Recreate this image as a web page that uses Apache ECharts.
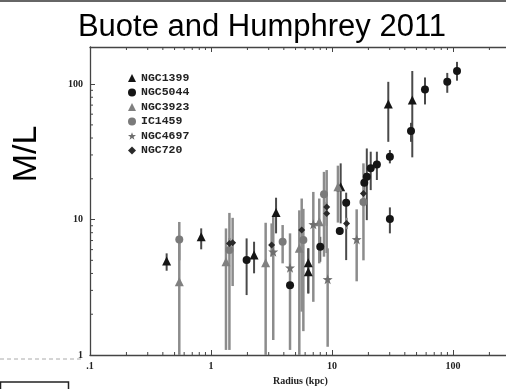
<!DOCTYPE html>
<html>
<head>
<meta charset="utf-8">
<script src="https://cdn.jsdelivr.net/npm/echarts@6/dist/echarts.min.js"></script>
<style>
  html, body { margin: 0; padding: 0; background: #fff; }
  #chart { width: 506px; height: 389px; }
</style>
</head>
<body>
<div id="chart"></div>
<script>
// Mass-to-light ratio profiles: [radius (kpc), M/L, lower bound, upper bound]
const galaxies = ['NGC1399', 'NGC5044', 'NGC3923', 'IC1459', 'NGC4697', 'NGC720'];

const ngc1399 = [
  [0.43, 4.94, 4.19, 5.63],
  [0.83, 7.46, 6.03, 8.61],
  [2.27, 5.47, 4.01, 6.86],
  [3.45, 11.3, 7.91, 14.5],
  [6.37, 4.80, 2.85, 6.13],
  [6.37, 4.12, 2.85, 6.13],
  [11.8, 17.5, 9.37, 26.0],
  [29.2, 71.2, 37.5, 104],
  [46.1, 76.2, 28.8, 125]
];
const ngc5044 = [
  [1.97, 5.02, 2.77, 7.26],
  [4.50, 3.28, 3.0, 3.6],
  [8.0, 6.30, 4.88, 7.46],
  [11.6, 8.23, 7.7, 8.8],
  [13.1, 13.3, 5.02, 15.8],
  [18.5, 18.7, 16.0, 22.0],
  [19.4, 20.7, 9.9, 33.5],
  [20.9, 23.9, 16.5, 31.7],
  [23.5, 25.5, 19.6, 31.7],
  [30.1, 29.1, 26.0, 32.6],
  [30.1, 10.1, 7.91, 12.3],
  [45.0, 45.0, 37.5, 51.8],
  [58.7, 91.4, 70.8, 112],
  [89.7, 104, 86.3, 121],
  [108, 125, 106, 146]
];
const ngc3923 = [
  [0.547, 3.48, 1.0, 7.0],
  [1.33, 4.88, 1.09, 8.6],
  [2.83, 4.80, 1.0, 9.47],
  [5.37, 6.13, 1.0, 11.7],
  [7.85, 9.63, 4.75, 14.3],
  [11.2, 17.5, 9.5, 25.0]
];
const ic1459 = [
  [0.547, 7.14, 5.0, 9.6],
  [1.42, 5.95, 1.09, 11.2],
  [3.91, 6.86, 4.75, 9.11],
  [5.8, 7.06, 1.5, 12.0],
  [8.59, 15.4, 5.32, 22.5],
  [18.2, 13.5, 12.5, 14.5]
];
const ngc4697 = [
  [3.27, 5.79, 1.29, 10.5],
  [4.50, 4.41, 1.09, 7.91],
  [7.01, 9.22, 2.47, 16.0],
  [9.21, 3.62, 1.15, 6.13],
  [16.0, 7.14, 3.5, 11.9]
];
const ngc720 = [
  [1.42, 6.67, 6.0, 7.3],
  [1.51, 6.74, 3.23, 10.3],
  [3.17, 6.48, 5.32, 9.37],
  [5.62, 8.37, 2.09, 14.3],
  [9.04, 12.4, 5.66, 23.2],
  [9.04, 11.1, 9.0, 13.5],
  [13.2, 9.37, 8.5, 10.3],
  [18.2, 15.6, 5.0, 26.0]
];

// Axis ranges and labelled decades
const xRange = [0.1, 300];
const yRange = [1, 188];
const xDecades = [0.1, 1, 10, 100];
const yDecades = [1, 10, 100];
const minorSteps = [2, 3, 4, 5, 6, 7, 8, 9];

const starPath = 'path://M0,-10L2.35,-3.24L9.51,-3.09L3.8,1.24L5.88,8.09L0,4L-5.88,8.09L-3.8,1.24L-9.51,-3.09L-2.35,-3.24Z';

const styles = {
  NGC1399: { data: ngc1399, symbol: 'triangle', size: 9, color: '#151515', err: '#4a4a4a', w: 2 },
  NGC5044: { data: ngc5044, symbol: 'circle', size: 8, color: '#151515', err: '#4a4a4a', w: 2 },
  NGC3923: { data: ngc3923, symbol: 'triangle', size: 9, color: '#808080', err: '#8c8c8c', w: 2.5 },
  IC1459:  { data: ic1459, symbol: 'circle', size: 8, color: '#7a7a7a', err: '#8c8c8c', w: 2.5 },
  NGC4697: { data: ngc4697, symbol: starPath, size: 10, color: '#6e6e6e', err: '#8c8c8c', w: 2.5 },
  NGC720:  { data: ngc720, symbol: 'diamond', size: 7, color: '#2a2a2a', err: '#8c8c8c', w: 2.5 }
};

function isDecade(v) {
  const l = Math.log10(v);
  return Math.abs(l - Math.round(l)) < 1e-6;
}

function errorBars(color, width) {
  return function (params, api) {
    const x = api.value(0);
    const p1 = api.coord([x, api.value(2)]);
    const p2 = api.coord([x, api.value(3)]);
    return {
      type: 'line',
      shape: { x1: p1[0], y1: p1[1], x2: p2[0], y2: p2[1] },
      style: { stroke: color, lineWidth: width }
    };
  };
}

// Minor ticks at 2..9 x 10^k on the bottom, top and left frame edges
const minorTicks = [];
xDecades.forEach(d => minorSteps.forEach(m => {
  const v = d * m;
  if (v < xRange[1]) {
    minorTicks.push([v, yRange[0], 0]);
    minorTicks.push([v, yRange[1], 1]);
  }
}));
yDecades.forEach(d => minorSteps.forEach(m => {
  const v = d * m;
  if (v < yRange[1]) minorTicks.push([xRange[0], v, 2]);
}));

const series = [];
galaxies.forEach(name => {
  const s = styles[name];
  series.push({
    name: name + ' err',
    type: 'custom',
    renderItem: errorBars(s.err, s.w),
    data: s.data,
    encode: { x: 0, y: 1 },
    z: 2,
    silent: true
  });
});
galaxies.forEach(name => {
  const s = styles[name];
  series.push({
    name: name,
    type: 'scatter',
    symbol: s.symbol,
    symbolSize: s.size,
    itemStyle: { color: s.color, opacity: 1 },
    data: s.data.map(p => [p[0], p[1]]),
    z: 3,
    silent: true
  });
});
series.push({
  name: 'minor ticks',
  type: 'custom',
  data: minorTicks,
  encode: { x: 0, y: 1 },
  silent: true,
  clip: false,
  z: 4,
  renderItem: function (params, api) {
    const p = api.coord([api.value(0), api.value(1)]);
    const kind = api.value(2);
    const len = 3;
    let shape;
    if (kind === 0) shape = { x1: p[0], y1: p[1], x2: p[0], y2: p[1] - len };
    else if (kind === 1) shape = { x1: p[0], y1: p[1], x2: p[0], y2: p[1] + len };
    else shape = { x1: p[0], y1: p[1], x2: p[0] + len, y2: p[1] };
    return { type: 'line', shape: shape, style: { stroke: '#444', lineWidth: 1 } };
  }
});

const tickFont = { fontFamily: 'Liberation Serif', fontWeight: 'bold', fontSize: 10, color: '#222' };
const axisLine = { show: true, lineStyle: { color: '#444', width: 1.3 } };
const majorTick = { show: true, inside: true, length: 5, lineStyle: { color: '#444', width: 1 } };

const chart = echarts.init(document.getElementById('chart'), null, { renderer: 'canvas' });
chart.setOption({
  animation: false,
  backgroundColor: '#fff',
  grid: { left: 90, top: 47, width: 420.7, height: 308, containLabel: false, outerBoundsMode: 'none' },
  legend: {
    data: galaxies,
    orient: 'vertical',
    left: 123,
    top: 67,
    itemWidth: 8,
    itemHeight: 8,
    itemGap: 2.5,
    selectedMode: false,
    textStyle: { fontFamily: 'Liberation Mono', fontWeight: 'bold', fontSize: 11.5, lineHeight: 12, color: '#222' }
  },
  xAxis: [
    {
      type: 'log', logBase: 10, min: xRange[0], max: xRange[1],
      name: 'Radius (kpc)', nameLocation: 'middle', nameGap: 21,
      nameTextStyle: { fontFamily: 'Liberation Serif', fontWeight: 'bold', fontSize: 10, color: '#222' },
      axisLine: axisLine, axisTick: majorTick, splitLine: { show: false },
      axisLabel: Object.assign({ margin: 6, showMaxLabel: false,
        formatter: v => isDecade(v) ? (v < 1 ? '.1' : String(Math.round(v))) : '' }, tickFont)
    },
    {
      type: 'log', logBase: 10, min: xRange[0], max: xRange[1], position: 'top',
      axisLine: axisLine, axisTick: majorTick, splitLine: { show: false },
      axisLabel: { show: false }
    }
  ],
  yAxis: {
    type: 'log', logBase: 10, min: yRange[0], max: yRange[1],
    axisLine: axisLine, axisTick: majorTick, splitLine: { show: false },
    axisLabel: Object.assign({ margin: 7, showMaxLabel: false,
      formatter: v => isDecade(v) ? String(Math.round(v)) : '' }, tickFont)
  },
  graphic: [
    {
      type: 'text', x: 262, y: 12,
      style: { text: 'Buote and Humphrey 2011', font: '31px "Liberation Sans"', fill: '#000', align: 'center', verticalAlign: 'top' }
    },
    {
      type: 'text', x: 27, y: 154, rotation: Math.PI / 2,
      style: { text: 'M/L', font: '34px "Liberation Sans"', fill: '#000', align: 'center', verticalAlign: 'middle' }
    },
    { type: 'line', shape: { x1: 0, y1: 1, x2: 506, y2: 1 }, style: { stroke: '#333', lineWidth: 1.5 } },
    { type: 'line', shape: { x1: 0, y1: 359, x2: 82, y2: 359 }, style: { stroke: '#aaa', lineWidth: 1, lineDash: [4, 3] } },
    { type: 'rect', shape: { x: 0.5, y: 382, width: 68, height: 10 }, style: { fill: 'none', stroke: '#222', lineWidth: 1.5 } }
  ],
  series: series
});
</script>
</body>
</html>
